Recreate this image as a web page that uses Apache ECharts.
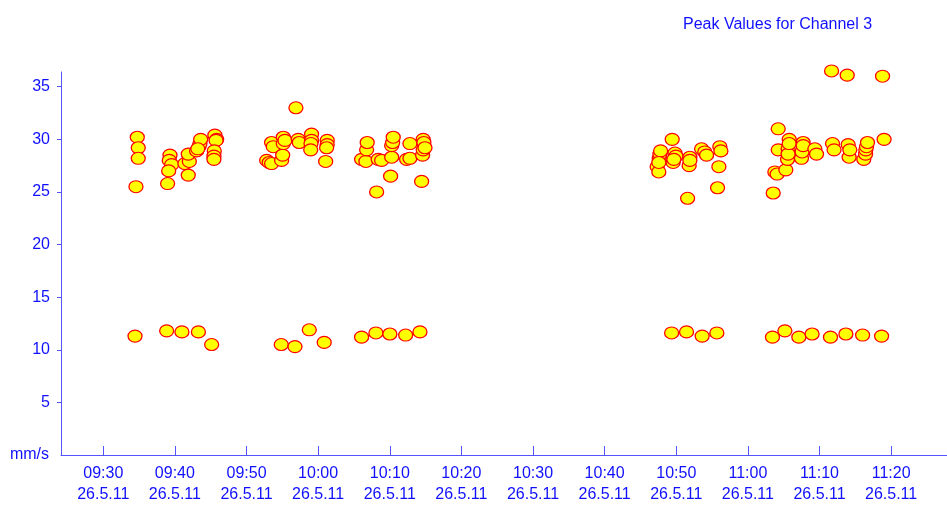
<!DOCTYPE html>
<html>
<head>
<meta charset="utf-8">
<title>Peak Values for Channel 3</title>
<script src="https://cdn.jsdelivr.net/npm/echarts@6/dist/echarts.min.js"></script>
<style>
  html, body { margin: 0; padding: 0; background: #ffffff; }
  #chart { width: 947px; height: 505px; }
</style>
</head>
<body>
<div id="chart"></div>
<script>
// Measurement times (26.5.11) and the peak value recorded at each one, in mm/s
const sampleTimes = [
  '09:34:45', '09:34:53', '09:34:53', '09:34:34', '09:34:26',
  '09:39:19', '09:39:13', '09:39:33', '09:39:08', '09:38:59', '09:38:51',
  '09:41:24', '09:42:01', '09:41:52', '09:41:52', '09:40:59',
  '09:43:02', '09:43:22', '09:43:30', '09:43:36', '09:43:12', '09:43:17',
  '09:45:35', '09:45:50', '09:45:45', '09:45:30', '09:45:27', '09:45:27', '09:45:08',
  '09:52:49', '09:53:10', '09:53:30', '09:53:30', '09:53:44',
  '09:54:54', '09:55:03', '09:55:08', '09:55:08', '09:55:22',
  '09:54:51', '09:56:46', '09:58:46', '10:00:51', '09:56:54',
  '09:57:13', '09:57:22', '09:59:05', '09:59:05', '09:59:00', '09:58:58',
  '10:01:16', '10:01:16', '10:01:11', '10:01:03',
  '10:06:04', '10:06:04', '10:06:40', '10:06:46', '10:06:51',
  '10:08:04', '10:08:10', '10:08:23', '10:08:52',
  '10:10:01', '10:10:07', '10:10:16', '10:10:16', '10:10:24', '10:10:29',
  '10:12:13', '10:12:21', '10:12:49', '10:12:49',
  '10:14:13', '10:14:27', '10:14:35', '10:14:40', '10:14:40', '10:14:46', '10:14:55',
  '10:47:20', '10:47:34', '10:47:37', '10:47:43', '10:47:49', '10:47:34',
  '10:49:21', '10:49:26', '10:49:34', '10:49:49', '10:49:57', '10:49:40',
  '10:51:26', '10:51:35', '10:51:48', '10:51:54', '10:51:54',
  '10:53:32', '10:53:37', '10:53:59', '10:54:14',
  '10:55:40', '10:55:46', '10:55:57', '10:56:05', '10:56:14',
  '11:03:26', '11:03:32', '11:03:46', '11:04:05', '11:04:14', '11:04:14',
  '11:05:10', '11:05:18', '11:05:32', '11:05:37', '11:05:37', '11:05:46', '11:05:46',
  '11:07:07', '11:07:29', '11:07:34', '11:07:43', '11:07:43',
  '11:08:58', '11:09:21', '11:09:35',
  '11:11:32', '11:11:41', '11:11:49', '11:12:02',
  '11:13:41', '11:13:52', '11:14:00', '11:14:08', '11:14:14',
  '11:16:01', '11:16:11', '11:16:26', '11:16:28', '11:16:34', '11:16:42',
  '11:18:40', '11:18:48', '11:19:01'
];
const peakValues = [
  30.2, 29.2, 28.2, 25.5, 11.3,
  28.5, 28.0, 27.6, 27.0, 25.8, 11.8,
  27.7, 27.9, 26.6, 28.6, 11.7,
  28.9, 29.3, 29.6, 30.0, 29.1, 11.7,
  30.4, 30.0, 29.9, 28.9, 28.4, 28.1, 10.5,
  28.0, 27.8, 29.7, 27.7, 29.3,
  28.0, 28.5, 30.2, 29.6, 29.9,
  10.5, 10.3, 11.9, 10.7, 33.0,
  30.0, 29.7, 30.5, 29.9, 29.6, 29.0,
  29.9, 29.5, 29.2, 27.9,
  28.1, 11.2, 27.9, 29.0, 29.7,
  11.6, 25.0, 28.1, 28.0,
  11.5, 26.5, 28.3, 29.4, 29.7, 30.2,
  11.4, 28.1, 29.6, 28.2,
  11.7, 26.0, 28.5, 30.0, 29.0, 29.7, 29.2,
  27.4, 26.9, 28.2, 28.6, 28.9, 27.8,
  11.6, 30.0, 27.8, 28.7, 28.4, 28.1,
  11.7, 24.4, 27.5, 28.3, 28.0,
  29.1, 11.3, 28.8, 28.5,
  11.6, 25.4, 27.4, 29.3, 28.9,
  11.2, 24.9, 26.9, 26.7, 31.0, 29.0,
  11.8, 27.1, 28.1, 29.1, 28.6, 30.0, 29.6,
  11.2, 28.2, 28.8, 29.7, 29.4,
  11.5, 29.1, 28.6,
  11.2, 36.5, 29.6, 29.0,
  11.5, 36.1, 29.5, 28.3, 29.0,
  11.4, 28.1, 28.6, 29.0, 29.3, 29.7,
  11.3, 36.0, 30.0
];

// Axis annotations
const tickTimes = ['09:30', '09:40', '09:50', '10:00', '10:10', '10:20',
                   '10:30', '10:40', '10:50', '11:00', '11:10', '11:20'];
const dateLabel = '26.5.11';
const yTicks = [5, 10, 15, 20, 25, 30, 35];

// "HH:MM[:SS]" -> minutes since midnight
function toMinutes(s) {
  const parts = s.split(':').map(Number);
  return parts[0] * 60 + parts[1] + (parts[2] || 0) / 60;
}
function fmtMinutes(v) {
  const total = Math.round(v);
  const h = Math.floor(total / 60), m = total % 60;
  return String(h).padStart(2, '0') + ':' + String(m).padStart(2, '0');
}

const tickMinutes = tickTimes.map(toMinutes);
const points = sampleTimes.map((t, i) => [toMinutes(t), peakValues[i]]);

const BLUE = '#1010ff';
const AXIS_BLUE = '#5555ff';
const FONT = 'Liberation Sans, Arial, sans-serif';

const chart = echarts.init(document.getElementById('chart'), null, { renderer: 'canvas' });
chart.setOption({
  animation: false,
  backgroundColor: '#ffffff',
  title: {
    text: 'Peak Values for Channel 3',
    left: 678,
    top: 12,
    textStyle: { color: BLUE, fontSize: 16, fontWeight: 'normal', fontFamily: FONT }
  },
  grid: { left: 61, right: 0, top: 72, bottom: 50, containLabel: false },
  xAxis: {
    type: 'value',
    min: 564.1,
    max: 687.8,
    splitLine: { show: false },
    axisLine: { lineStyle: { color: AXIS_BLUE, width: 1 } },
    axisTick: {
      inside: true,
      length: 9,
      customValues: tickMinutes,
      lineStyle: { color: AXIS_BLUE }
    },
    axisLabel: {
      customValues: tickMinutes,
      margin: 8,
      color: BLUE,
      fontSize: 16,
      lineHeight: 21,
      fontFamily: FONT,
      formatter: v => fmtMinutes(v) + '\n' + dateLabel
    }
  },
  yAxis: {
    type: 'value',
    min: 0,
    max: 36.4,
    name: 'mm/s',
    nameLocation: 'start',
    nameGap: 0,
    nameTextStyle: {
      color: BLUE, fontSize: 16, fontFamily: FONT,
      align: 'right', verticalAlign: 'middle', padding: [0, 12, 0, 0]
    },
    splitLine: { show: false },
    axisLine: { show: true, lineStyle: { color: AXIS_BLUE, width: 1 } },
    axisTick: {
      show: true,
      length: 4,
      customValues: yTicks,
      lineStyle: { color: AXIS_BLUE }
    },
    axisLabel: {
      customValues: yTicks,
      margin: 11,
      color: BLUE,
      fontSize: 16,
      fontFamily: FONT
    }
  },
  series: [{
    type: 'scatter',
    data: points,
    clip: false,
    symbol: 'circle',
    symbolSize: [14, 12],
    itemStyle: { color: '#ffff00', borderColor: '#ff0000', borderWidth: 1.2, opacity: 1 }
  }]
});
</script>
</body>
</html>
